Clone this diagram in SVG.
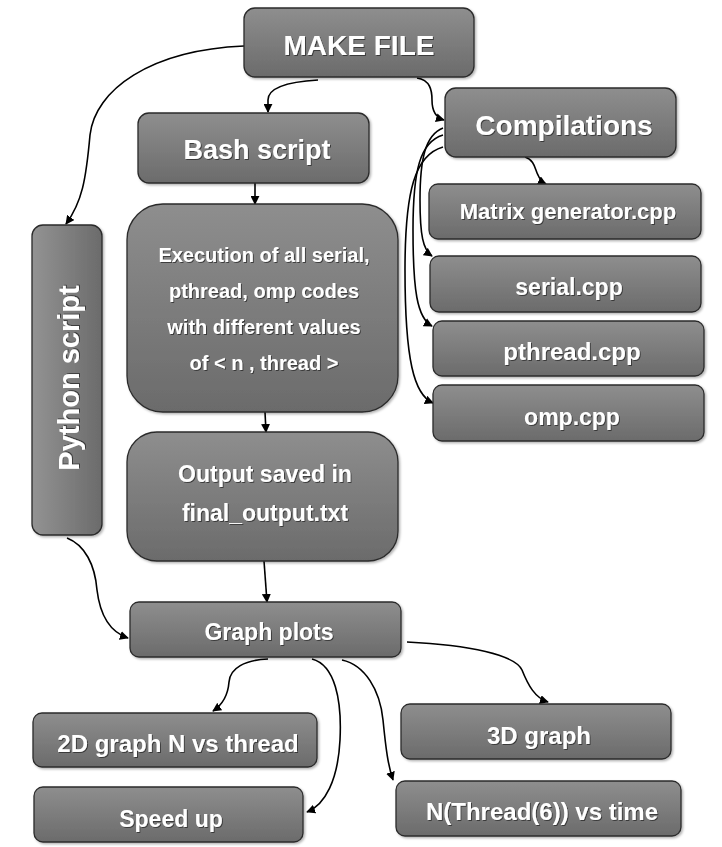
<svg xmlns="http://www.w3.org/2000/svg" width="722" height="847" viewBox="0 0 722 847">
<defs>
<linearGradient id="gv" x1="0" y1="0" x2="0" y2="1">
<stop offset="0" stop-color="#8e8e8e"/>
<stop offset="1" stop-color="#6b6b6b"/>
</linearGradient>
<linearGradient id="gh" x1="0" y1="0" x2="1" y2="0">
<stop offset="0" stop-color="#939393"/>
<stop offset="1" stop-color="#6b6b6b"/>
</linearGradient>
<filter id="ts" x="-10%" y="-30%" width="120%" height="160%">
<feDropShadow dx="1" dy="1" stdDeviation="0.6" flood-color="#2a2a2a" flood-opacity="0.8"/>
</filter>
<filter id="bs" x="-5%" y="-5%" width="112%" height="115%">
<feDropShadow dx="1.5" dy="1.5" stdDeviation="1.2" flood-color="#000" flood-opacity="0.3"/>
</filter>
<marker id="ah" viewBox="0 0 10 10" refX="9" refY="5" markerWidth="9" markerHeight="9" markerUnits="userSpaceOnUse" orient="auto">
<path d="M0,0 L10,5 L0,10 Z" fill="#000"/>
</marker>
</defs>
<style>
.box{fill:url(#gv);stroke:#2b2b2b;stroke-width:1.3;filter:url(#bs)}
.boxh{fill:url(#gh);stroke:#2b2b2b;stroke-width:1.3;filter:url(#bs)}
.t{font-family:"Liberation Sans",Arial,sans-serif;font-weight:bold;fill:#ffffff;text-anchor:middle;filter:url(#ts)}
.c{fill:none;stroke:#000;stroke-width:1.6;marker-end:url(#ah)}
</style>
<rect width="722" height="847" fill="#ffffff"/>

<g id="connectors">
<path class="c" d="M 318 80 C 285 82 268 88 268 100 L 268 112"/>
<path class="c" d="M 244 46 C 150 50 95 90 90 135 C 86 180 82 202 66 224"/>
<path class="c" d="M 417 78 C 430 80 432 90 432 100 C 432 112 437 118 444 120"/>
<path class="c" d="M 525 157 C 535 160 535 170 538 175 C 540 180 542 182 546 184"/>
<path class="c" d="M 443 128 C 425 135 420 160 420 200 C 420 235 423 250 432 256"/>
<path class="c" d="M 443 135 C 420 142 413 170 413 230 C 413 290 417 318 432 326"/>
<path class="c" d="M 443 147 C 415 155 405 190 405 270 C 405 360 414 395 433 403"/>
<path class="c" d="M 255 183 L 255 204"/>
<path class="c" d="M 265 412 L 266 432"/>
<path class="c" d="M 264 561 L 267 602"/>
<path class="c" d="M 67 538 C 85 545 95 565 97 590 C 100 615 110 632 128 638"/>
<path class="c" d="M 407 642 C 470 645 515 655 522 670 C 528 685 535 698 548 702"/>
<path class="c" d="M 268 659 C 245 660 230 668 229 682 C 228 695 222 705 213 711"/>
<path class="c" d="M 312 659 C 335 665 342 700 340 740 C 338 780 325 805 307 812"/>
<path class="c" d="M 342 660 C 365 665 380 690 383 720 C 386 750 388 765 393 780"/>
</g>

<g id="make-file">
<rect class="box" x="244" y="8" width="230" height="69" rx="11"/>
<text class="t" x="359" y="55" font-size="28">MAKE FILE</text>
</g>
<g id="compilations">
<rect class="box" x="445" y="88" width="231" height="69" rx="11"/>
<text class="t" x="564" y="135" font-size="28">Compilations</text>
</g>
<g id="bash-script">
<rect class="box" x="138" y="113" width="231" height="70" rx="11"/>
<text class="t" x="257" y="159" font-size="27">Bash script</text>
</g>
<g id="matrix-generator">
<rect class="box" x="429" y="184" width="272" height="55" rx="9"/>
<text class="t" x="568" y="219" font-size="22">Matrix generator.cpp</text>
</g>
<g id="serial">
<rect class="box" x="430" y="256" width="271" height="56" rx="9"/>
<text class="t" x="569" y="295" font-size="23">serial.cpp</text>
</g>
<g id="pthread">
<rect class="box" x="433" y="321" width="271" height="55" rx="9"/>
<text class="t" x="572" y="360" font-size="24">pthread.cpp</text>
</g>
<g id="omp">
<rect class="box" x="433" y="385" width="271" height="56" rx="9"/>
<text class="t" x="572" y="425" font-size="23">omp.cpp</text>
</g>
<g id="python-script">
<rect class="boxh" x="32" y="225" width="70" height="310" rx="11"/>
<text class="t" transform="translate(79 378) rotate(-90)" x="0" y="0" font-size="29">Python script</text>
</g>
<g id="execution">
<rect class="box" x="127" y="204" width="271" height="208" rx="36"/>
<text class="t" x="264" y="262" font-size="20">Execution of all serial,</text>
<text class="t" x="264" y="298" font-size="20">pthread, omp codes</text>
<text class="t" x="264" y="334" font-size="20">with different values</text>
<text class="t" x="264" y="370" font-size="20">of &lt; n , thread &gt;</text>
</g>
<g id="output-saved">
<rect class="box" x="127" y="432" width="271" height="129" rx="30"/>
<text class="t" x="265" y="482" font-size="23">Output saved in</text>
<text class="t" x="265" y="521" font-size="23">final_output.txt</text>
</g>
<g id="graph-plots">
<rect class="box" x="130" y="602" width="271" height="55" rx="9"/>
<text class="t" x="269" y="640" font-size="23">Graph plots</text>
</g>
<g id="graph-2d">
<rect class="box" x="33" y="713" width="284" height="54" rx="9"/>
<text class="t" x="178" y="752" font-size="24">2D graph N vs thread</text>
</g>
<g id="speed-up">
<rect class="box" x="34" y="787" width="269" height="55" rx="9"/>
<text class="t" x="171" y="827" font-size="23">Speed up</text>
</g>
<g id="graph-3d">
<rect class="box" x="401" y="704" width="270" height="55" rx="9"/>
<text class="t" x="539" y="744" font-size="24">3D graph</text>
</g>
<g id="n-thread-time">
<rect class="box" x="396" y="781" width="285" height="55" rx="9"/>
<text class="t" x="542" y="820" font-size="24">N(Thread(6)) vs time</text>
</g>
</svg>
